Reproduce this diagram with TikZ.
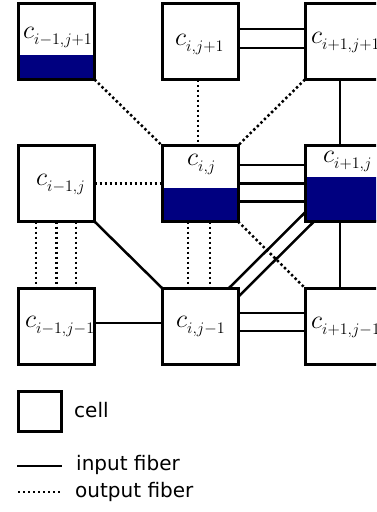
\RequirePackage{fix-cm}
\documentclass[tikz,border=0pt]{standalone}
\usepackage{fontspec}
\usetikzlibrary{calc}
\newfontfamily\legfont{DejaVu Sans}
\definecolor{cellblue}{RGB}{0,0,128}
\newcommand\clab[1]{{\fontsize{26}{26}\selectfont$c$}\raisebox{-6pt}{\fontsize{23}{23}\selectfont$\scriptstyle #1$}}
\begin{document}
\begin{tikzpicture}[x=1pt,y=-1pt,
  cellbox/.style={draw,line width=3pt,minimum width=76pt,minimum height=76pt,inner sep=0pt,outer sep=0pt},
  infiber/.style={line width=2.5pt},
  outfiber/.style={line width=2.5pt,dash pattern=on 2.4pt off 2.6pt},
  lab/.style={anchor=base west,inner sep=0pt},
  legtext/.style={anchor=base west,inner sep=0pt,font=\legfont\fontsize{20}{24}\selectfont}]
\useasboundingbox (0,0) rectangle (376,512);
\clip (0,0) rectangle (376,512);
% blue fills
\fill[cellblue] (18.5,55) rectangle (94.5,79.5);
\fill[cellblue] (162,188) rectangle (238,221.5);
\fill[cellblue] (305,177) rectangle (381,221.5);
% cells
\node[cellbox] (A1) at (56.5,41.5) {};
\node[cellbox] (B1) at (200,41.5) {};
\node[cellbox] (C1) at (343,41.5) {};
\node[cellbox] (A2) at (56.5,183.5) {};
\node[cellbox] (B2) at (200,183.5) {};
\node[cellbox] (C2) at (343,183.5) {};
\node[cellbox] (A3) at (56.5,326) {};
\node[cellbox] (B3) at (200,326) {};
\node[cellbox] (C3) at (343,326) {};
% labels
\node[lab] (tA1) at (23,38) {\clab{i-1,j+1}};
\node[lab] (tB1) at (175,45) {\clab{i,j+1}};
\node[lab] (tC1) at (311,43) {\clab{i+1,j+1}};
\node[lab] (tA2) at (36,185) {\clab{i-1,j}};
\node[lab] (tB2) at (187,165) {\clab{i,j}};
\node[lab] (tC2) at (323,162) {\clab{i+1,j}};
\node[lab] (tA3) at (25,327) {\clab{i-1,j-1}};
\node[lab] (tB3) at (176,327) {\clab{i,j-1}};
\node[lab] (tC3) at (311,328) {\clab{i+1,j-1}};
% top row connectors
\draw[outfiber] (A1.south east) -- (B2.north west);
\draw[infiber] ($(B1.east)+(0,-12.5)$) -- ($(C1.west)+(0,-12.5)$);
\draw[infiber] ($(B1.east)+(0,6.5)$) -- ($(C1.west)+(0,6.5)$);
\draw[outfiber] ($(B1.south)+(-2,0)$) -- ($(B2.north)+(-2,0)$);
\draw[outfiber] (C1.south west) -- (B2.north east);
\draw[infiber] ($(C1.south)+(-3,0)$) -- ($(C2.north)+(-3,0)$);
% middle row
\draw[outfiber] (A2.east) -- (B2.west);
\draw[infiber] ($(B2.east)+(0,-18.5)$) -- ($(C2.west)+(0,-18.5)$);
\draw[infiber] (B2.east) -- (C2.west);
\draw[infiber] ($(B2.east)+(0,18)$) -- ($(C2.west)+(0,18)$);
\draw[outfiber] ($(A2.south)+(-20.5,0)$) -- ($(A3.north)+(-20.5,0)$);
\draw[outfiber] (A2.south) -- (A3.north);
\draw[outfiber] ($(A2.south)+(19.5,0)$) -- ($(A3.north)+(19.5,0)$);
\draw[infiber] (A2.south east) -- (B3.north west);
\draw[outfiber] ($(B2.south)+(-12,0)$) -- ($(B3.north)+(-12,0)$);
\draw[outfiber] ($(B2.south)+(10,0)$) -- ($(B3.north)+(10,0)$);
\draw[infiber] ($(C2.south west)+(0,-9)$) -- ($(B3.north east)+(-9,0)$);
\draw[infiber] ($(C2.south west)+(9,0)$) -- ($(B3.north east)+(0,9)$);
\draw[outfiber] (B2.south east) -- (C3.north west);
\draw[infiber] ($(C2.south)+(-3,0)$) -- ($(C3.north)+(-3,0)$);
% bottom row
\draw[infiber] ($(A3.east)+(0,-3)$) -- ($(B3.west)+(0,-3)$);
\draw[infiber] ($(B3.east)+(0,-13)$) -- ($(C3.west)+(0,-13)$);
\draw[infiber] ($(B3.east)+(0,5)$) -- ($(C3.west)+(0,5)$);
% legend
\node[draw,line width=3pt,minimum width=43pt,minimum height=40pt,inner sep=0pt] (legbox) at (39.5,411) {};
\node[legtext] (legcell) at (74,417) {cell};
\coordinate (inA) at (17,466);
\coordinate (inB) at (62,466);
\draw[infiber] (inA) -- (inB);
\node[legtext] (legin) at (76,470) {input fiber};
\coordinate (outA) at (18,492);
\coordinate (outB) at (62,492);
\draw[outfiber] (outA) -- (outB);
\node[legtext] (legout) at (75,497) {output fiber};
\end{tikzpicture}
\end{document}
